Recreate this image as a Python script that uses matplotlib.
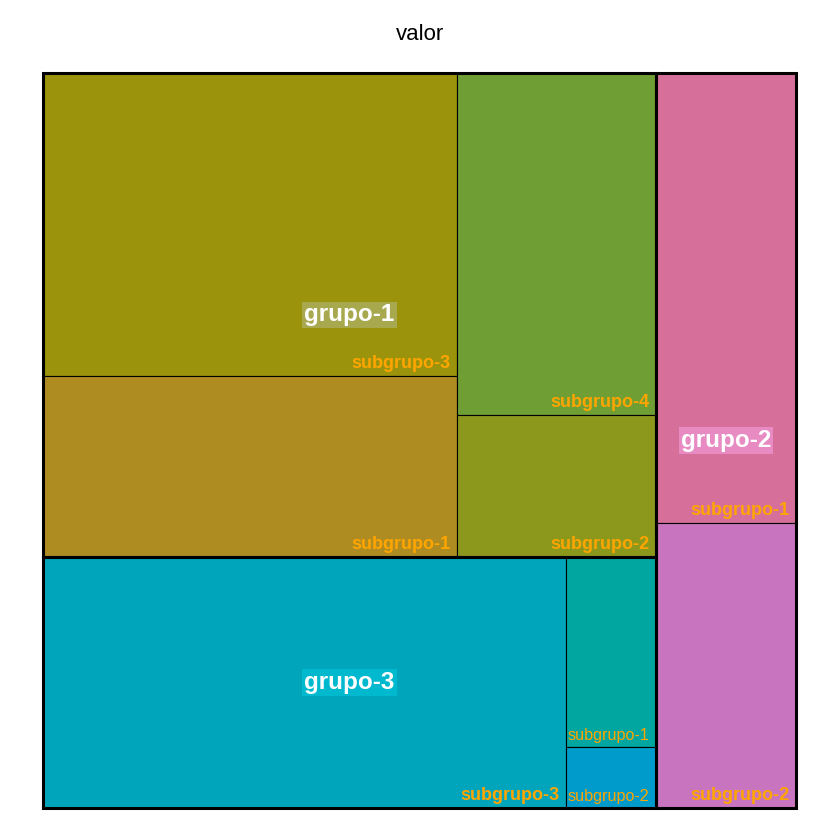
import matplotlib
matplotlib.use("Agg")
import matplotlib.pyplot as plt
from matplotlib.patches import Rectangle

plt.rcParams["font.family"] = ["Liberation Sans", "DejaVu Sans"]

# data (area ~ valor)
grupo = ["grupo-1", "grupo-1", "grupo-1", "grupo-1",
         "grupo-2", "grupo-2",
         "grupo-3", "grupo-3", "grupo-3"]
subgrupo = ["subgrupo-3", "subgrupo-1", "subgrupo-4", "subgrupo-2",
            "subgrupo-1", "subgrupo-2",
            "subgrupo-3", "subgrupo-1", "subgrupo-2"]
valor = [227, 135, 123, 51, 114, 72, 237, 31, 10]

fill_colors = ["#9B930B", "#AE8C21", "#6F9E34", "#8B981C",
               "#D6709B", "#C974BE",
               "#00A5BB", "#00A69F", "#009BCA"]
group_label_bg = {"grupo-1": "#A8A94F", "grupo-2": "#E78BC2", "grupo-3": "#00B9CF"}


def pivot_size(items, x, y, w, h):
    """Pivot-by-size ordered treemap; items = [(key, size)] sorted desc."""
    if not items:
        return {}
    if len(items) == 1:
        return {items[0][0]: (x, y, w, h)}
    total = sum(s for _, s in items)
    p_key, p = items[0]
    rest = items[1:]
    wide = w >= h
    best = None
    for k in range(len(rest) + 1):
        r2 = sum(s for _, s in rest[:k])
        frac = (p + r2) / total
        if wide:
            a, b = w * frac, h * p / (p + r2)
        else:
            a, b = h * frac, w * p / (p + r2)
        ratio = max(a / b, b / a)
        if best is None or ratio < best[0]:
            best = (ratio, k)
    k = best[1]
    r2_items, r3_items = rest[:k], rest[k:]
    r2 = sum(s for _, s in r2_items)
    frac = (p + r2) / total
    out = {}
    if wide:
        cw = w * frac
        ph = h * p / (p + r2)
        out[p_key] = (x, y, cw, ph)
        out.update(pivot_size(r2_items, x, y + ph, cw, h - ph))
        out.update(pivot_size(r3_items, x + cw, y, w - cw, h))
    else:
        ch = h * frac
        pw = w * p / (p + r2)
        out[p_key] = (x, y, pw, ch)
        out.update(pivot_size(r2_items, x + pw, y, w - pw, ch))
        out.update(pivot_size(r3_items, x, y + ch, w, h - ch))
    return out


fig = plt.figure(figsize=(8.4, 8.4), dpi=100)
ax = fig.add_axes([43 / 840, 32 / 840, 753 / 840, 735 / 840])
pos = ax.get_position()
W = pos.width * fig.get_figwidth() * fig.dpi
H = pos.height * fig.get_figheight() * fig.dpi
ax.set_xlim(0, W)
ax.set_ylim(H, 0)
ax.axis("off")

groups = list(dict.fromkeys(grupo))
gsize = {g: sum(v for gg, v in zip(grupo, valor) if gg == g) for g in groups}
top = pivot_size(sorted(gsize.items(), key=lambda t: -t[1]), 0, 0, W, H)

fig.canvas.draw()
renderer = fig.canvas.get_renderer()

for g in groups:
    gx, gy, gw, gh = top[g]
    idx = [i for i, gg in enumerate(grupo) if gg == g]
    items = sorted([(i, valor[i]) for i in idx], key=lambda t: -t[1])
    sub = pivot_size(items, gx, gy, gw, gh)
    for i, (x, y, w, h) in sub.items():
        ax.add_patch(Rectangle((x, y), w, h, facecolor=fill_colors[i],
                               edgecolor="black", linewidth=0.8, zorder=1,
                               clip_on=False))
        # subgroup label in bottom-right corner, shrunk if it does not fit
        size, weight = 13, "bold"
        t = ax.text(0, 0, subgrupo[i], fontsize=size, fontweight=weight)
        tw = t.get_window_extent(renderer).width
        t.remove()
        avail = w - 9
        if tw > avail:
            weight = "normal"
            t = ax.text(0, 0, subgrupo[i], fontsize=size, fontweight=weight)
            tw = t.get_window_extent(renderer).width
            t.remove()
            size = size * avail / tw
        ax.annotate(subgrupo[i], (x + w, y + h), xytext=(-4.5, 3),
                    textcoords="offset points", ha="right", va="bottom",
                    fontsize=size, fontweight=weight, color="#FFA500", zorder=3)
    ax.add_patch(Rectangle((gx, gy), gw, gh, facecolor="none",
                           edgecolor="black", linewidth=2.2, zorder=2,
                           clip_on=False))
    ax.text(gx + gw / 2, gy + gh / 2, g, ha="center", va="center",
            fontsize=17.5, fontweight="bold", color="white", zorder=4,
            bbox=dict(boxstyle="square,pad=0.08", facecolor=group_label_bg[g],
                      edgecolor="none"))

fig.text(0.5, 1 - 34 / 840, "valor", ha="center", va="center", fontsize=16)

fig.savefig("out.png", dpi=100)
